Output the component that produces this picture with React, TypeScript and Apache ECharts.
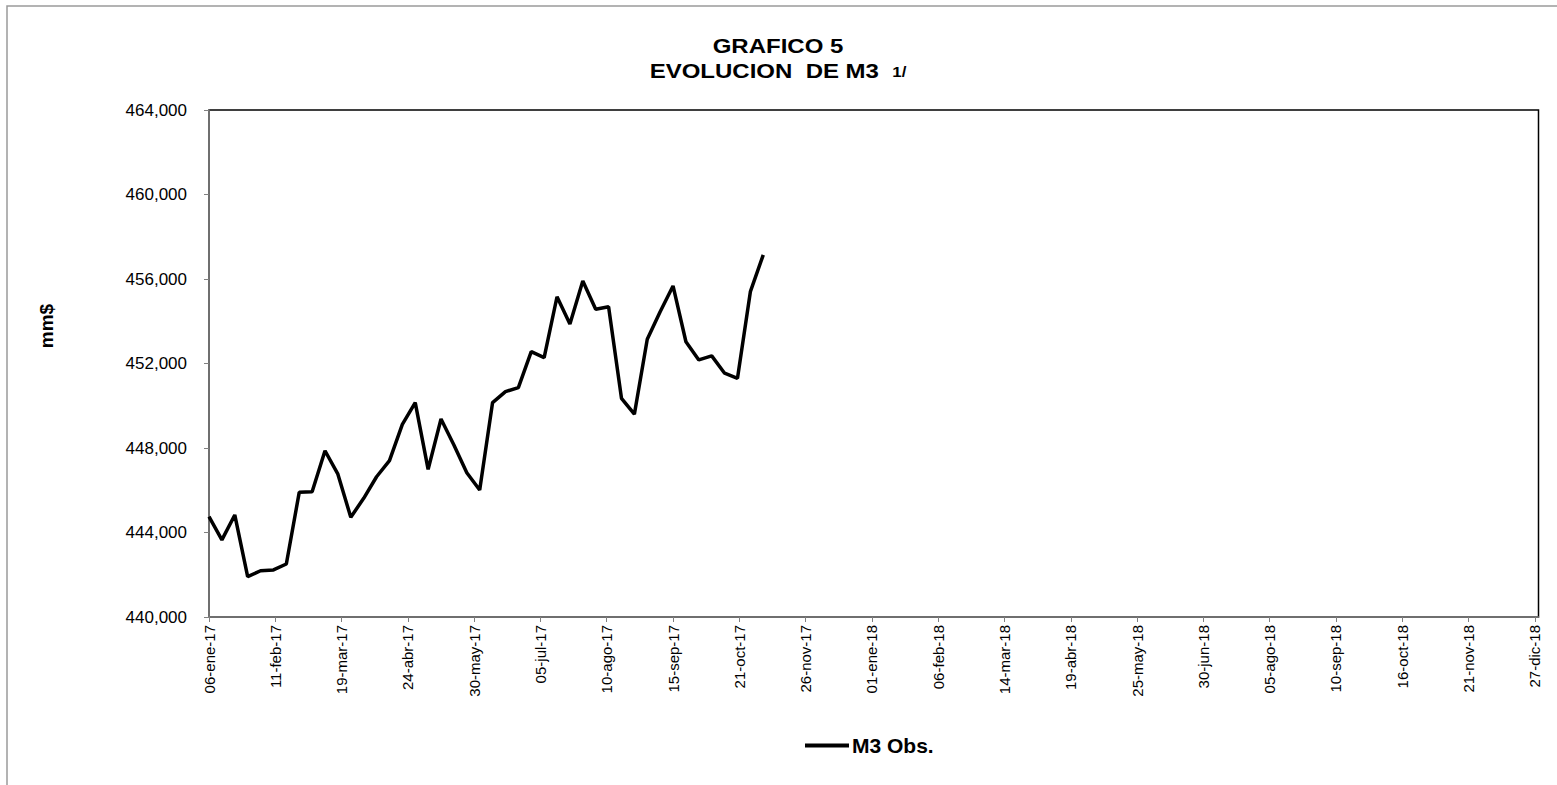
import React, { useEffect, useRef } from "react";
import * as echarts from "echarts";

const dates: string[] = [
  "2017-01-06", "2017-01-13", "2017-01-20", "2017-01-27",
  "2017-02-03", "2017-02-10", "2017-02-17", "2017-02-24",
  "2017-03-03", "2017-03-10", "2017-03-17", "2017-03-24", "2017-03-31",
  "2017-04-07", "2017-04-14", "2017-04-21", "2017-04-28",
  "2017-05-05", "2017-05-12", "2017-05-19", "2017-05-26",
  "2017-06-02", "2017-06-09", "2017-06-16", "2017-06-23", "2017-06-30",
  "2017-07-07", "2017-07-14", "2017-07-21", "2017-07-28",
  "2017-08-04", "2017-08-11", "2017-08-18", "2017-08-25",
  "2017-09-01", "2017-09-08", "2017-09-15", "2017-09-22", "2017-09-29",
  "2017-10-06", "2017-10-13", "2017-10-20", "2017-10-27",
  "2017-11-03",
];

const m3Obs: number[] = [
  444750, 443650, 444830, 441910,
  442190, 442230, 442510, 445900,
  445930, 447870, 446760, 444720, 445620,
  446640, 447400, 449120, 450150,
  446990, 449370, 448140, 446830,
  446010, 450150, 450670, 450860, 452560,
  452280, 455160, 453870, 455910,
  454570, 454690, 450350, 449600,
  453150, 454450, 455670, 453030, 452170,
  452360, 451540, 451300, 455400,
  457140,
];

const monthsEs: string[] = ["ene", "feb", "mar", "abr", "may", "jun", "jul", "ago", "sep", "oct", "nov", "dic"];

const axisStart = "2017-01-06";
const axisEnd = "2018-12-29";
const tickDays = 36;
const yMin = 440000;
const yMax = 464000;
const yStep = 4000;

const DAY = 86400000;
const toUTC = (s: string) => {
  const [y, m, d] = s.split("-").map(Number);
  return Date.UTC(y, m - 1, d);
};
const startMs = toUTC(axisStart);
const dayOffset = (s: string) => Math.round((toUTC(s) - startMs) / DAY);

const fmtDate = (days: number) => {
  const dt = new Date(startMs + days * DAY);
  const dd = String(dt.getUTCDate()).padStart(2, "0");
  const yy = String(dt.getUTCFullYear() % 100).padStart(2, "0");
  return `${dd}-${monthsEs[dt.getUTCMonth()]}-${yy}`;
};

const FONT = "Arial, 'Liberation Sans', sans-serif";

export default function App() {
  const ref = useRef<HTMLDivElement>(null);
  useEffect(() => {
    document.body.style.margin = "0";
    if (!ref.current) return;
    const chart = echarts.init(ref.current, undefined, { renderer: "svg" });
    const seriesData = dates.map((d, i) => [dayOffset(d), m3Obs[i]]);
    chart.setOption({
      animation: false,
      backgroundColor: "#ffffff",
      textStyle: { fontFamily: FONT },
      graphic: [
        {
          type: "rect",
          shape: { x: 7, y: 6, width: 1600, height: 850 },
          style: { fill: "none", stroke: "#9a9a9a", lineWidth: 1.5 },
          silent: true,
        },
        {
          type: "text",
          x: 778,
          y: 46,
          scaleX: 1.2,
          style: {
            text: "GRAFICO 5",
            fontFamily: FONT,
            fontWeight: "bold",
            fontSize: 20,
            fill: "#000",
            align: "center",
            verticalAlign: "middle",
          },
        },
        {
          type: "text",
          x: 778,
          y: 71,
          scaleX: 1.2,
          style: {
            text: "{a|EVOLUCION  DE M3  }{b|1/}",
            fontFamily: FONT,
            fill: "#000",
            align: "center",
            verticalAlign: "middle",
            rich: {
              a: { fontFamily: FONT, fontWeight: "bold", fontSize: 20, fill: "#000" },
              b: { fontFamily: FONT, fontWeight: "bold", fontSize: 14, fill: "#000", padding: [2, 0, 0, 0] },
            },
          },
        },
        {
          type: "text",
          x: 46,
          y: 326,
          rotation: Math.PI / 2,
          style: {
            text: "mm$",
            fontFamily: FONT,
            fontWeight: "bold",
            fontSize: 19,
            fill: "#000",
            align: "center",
            verticalAlign: "middle",
          },
        },
      ],
      grid: {
        left: 209,
        right: 18.5,
        top: 110,
        bottom: 168,
        show: true,
        borderColor: "#000",
        borderWidth: 1.5,
        backgroundColor: "transparent",
      },
      legend: {
        left: 800,
        top: 730,
        icon: "rect",
        itemWidth: 44,
        itemHeight: 4,
        itemGap: 4,
        textStyle: { fontFamily: FONT, fontWeight: "bold", fontSize: 21, color: "#000", padding: [0, 0, 0, -2] },
        data: ["M3 Obs."],
      },
      xAxis: {
        type: "value",
        min: 0,
        max: dayOffset(axisEnd),
        interval: tickDays,
        splitLine: { show: false },
        axisLine: { show: true, lineStyle: { color: "#808080", width: 1.5 } },
        axisTick: { show: true, length: 5, lineStyle: { color: "#808080" } },
        axisLabel: {
          rotate: 90,
          margin: 8,
          fontFamily: FONT,
          fontSize: 15,
          color: "#000",
          showMaxLabel: false,
          formatter: (v: number) => (v % tickDays === 0 ? fmtDate(v) : ""),
        },
      },
      yAxis: {
        type: "value",
        min: yMin,
        max: yMax,
        interval: yStep,
        splitLine: { show: false },
        axisLine: { show: true, lineStyle: { color: "#808080", width: 1.5 } },
        axisTick: { show: true, length: 5, lineStyle: { color: "#808080" } },
        axisLabel: {
          margin: 22,
          fontFamily: FONT,
          fontSize: 17,
          color: "#000",
          formatter: (v: number) => v.toLocaleString("en-US"),
        },
      },
      series: [
        {
          name: "M3 Obs.",
          type: "line",
          data: seriesData,
          symbol: "none",
          showSymbol: false,
          lineStyle: { color: "#000", width: 3.5 },
          itemStyle: { color: "#000" },
        },
      ],
    });
    return () => chart.dispose();
  }, []);
  return <div ref={ref} style={{ position: "fixed", left: 0, top: 0, width: 1557, height: 785 }} />;
}
